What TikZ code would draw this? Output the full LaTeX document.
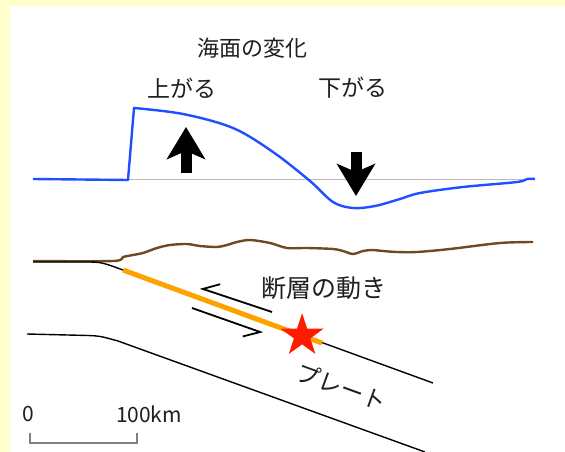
\documentclass[tikz,border=0pt]{standalone}
\usepackage{fontspec}
\newfontfamily\jpfont{Noto Sans CJK JP}
\usetikzlibrary{arrows.meta,shapes.geometric,calc}
\definecolor{seablue}{HTML}{1F4FFF}
\definecolor{landbrown}{HTML}{6E4A24}
\definecolor{faultorange}{HTML}{FFA200}
\definecolor{starred}{HTML}{FF1A00}
\definecolor{framecream}{HTML}{FFFFCC}
\tikzset{
	lbl/.style={font=\jpfont\fontsize{#1}{#1}\selectfont,inner sep=0pt,text=black!88},
	bigarrow/.style={line width=11pt,-{Stealth[length=32pt,width=38pt,inset=8pt]}},
	slip/.style={line width=1.8pt,-{Straight Barb[right,length=15pt,width=20pt]}},
	plate/.style={line width=1.4pt},
}
\begin{document}
\begin{tikzpicture}[x=1pt,y=-1pt]
	\fill[framecream] (0,0) rectangle (565,452);
	\fill[white] (10,6) rectangle (565,452);
	\useasboundingbox (0,0) rectangle (565,452);
	% sea surface
	\node[lbl=22] (title) at (252,48) {海面の変化};
	\node[lbl=23] (rise) at (182,88) {上がる};
	\node[lbl=23] (fall) at (353,88) {下がる};
	\draw[gray!55,line width=1pt] (33,179) -- (535,179);
	\draw[seablue,line width=2.4pt,line join=round] (33,179) -- (128,180) -- (134,108) -- plot[smooth,tension=0.55] coordinates {(134,108) (183,114) (233,128) (273,152) (310,181) (333,202) (353,208) (375,206) (400,199) (420,193) (463,187) (517,182) (527,179) (535,179)};
	\coordinate (upfoot) at (186,173);
	\coordinate (uptip) at (186,127);
	\coordinate (downfoot) at (356,152);
	\coordinate (downtip) at (356,196);
	\draw[bigarrow] (upfoot) -- (uptip);
	\draw[bigarrow] (downfoot) -- (downtip);
	% land and plate
	\draw[landbrown,line width=2.4pt] plot[smooth,tension=0.5] coordinates {(33,261) (113,261) (123,257) (133,255) (143,253) (157,248) (170,245) (187,244) (200,246) (217,247) (227,245) (237,242) (250,240) (270,243) (287,248) (307,248) (333,249) (343,251) (353,254) (363,251) (372,250) (383,251) (397,252) (417,252) (450,249) (500,243) (533,242)};
	\coordinate (f0) at (123,270);
	\coordinate (f1) at (322,343);
	\coordinate (pend) at (433,383);
	\draw[plate] (33,262) -- (85,262) .. controls (101,262) .. (f0) -- (pend);
	\draw[plate] (27,334) -- (88,335.5) .. controls (100,336) .. (118,341) -- (425,452);
	\draw[faultorange,line width=5pt] (f0) -- (f1);
	\node[star,star points=5,star point ratio=2.6,fill=starred,minimum size=45pt,inner sep=0pt] (epi) at ($(f0)!0.9!(f1)$) {};
	\coordinate (sl0) at (272,312);
	\coordinate (sl1) at (200,288);
	\coordinate (sr0) at (192,308);
	\coordinate (sr1) at (263,333);
	\draw[slip] (sl0) -- (sl1);
	\draw[slip] (sr0) -- (sr1);
	\node[lbl=25] (fault) at (324,288) {断層の動き};
	\node[lbl=23.5,rotate=-20] (platename) at (342,387) {プレート};
	% scale
	\coordinate (s0) at (30,443);
	\coordinate (s1) at (137,443);
	\draw[gray,line width=1.2pt] ($(s0)+(0,-10)$) -- (s0) -- (s1) -- ($(s1)+(0,-10)$);
	\node[lbl=21] (zero) at (28,414) {0};
	\node[lbl=21] (km) at (149,414) {100km};
\end{tikzpicture}
\end{document}
